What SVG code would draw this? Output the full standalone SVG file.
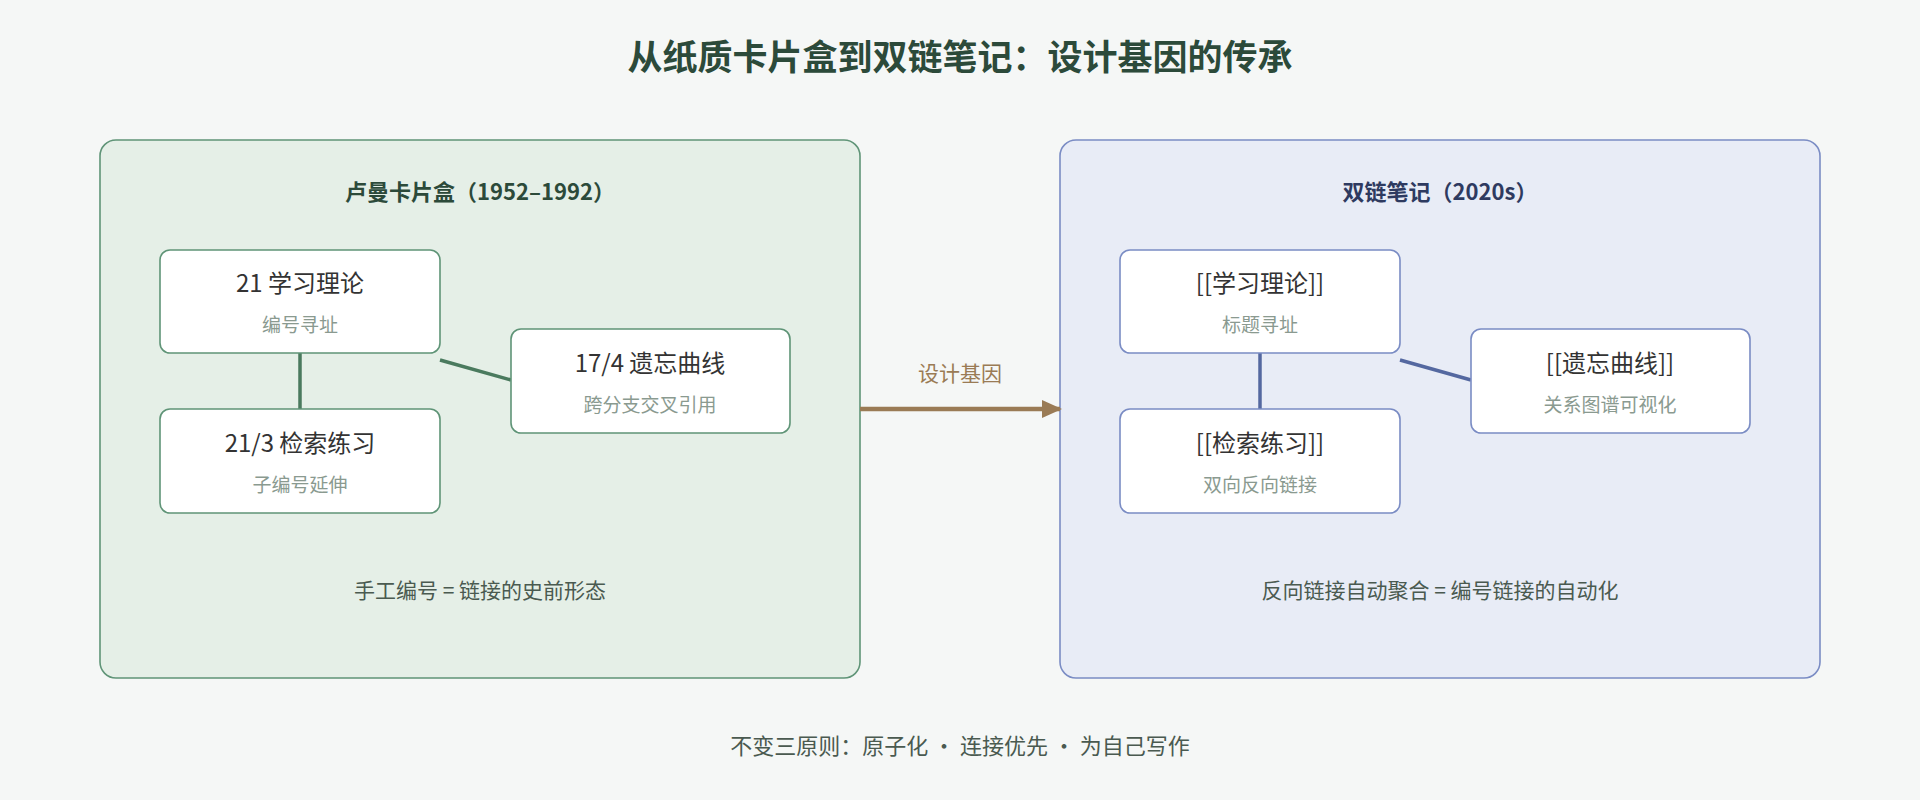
<svg xmlns="http://www.w3.org/2000/svg" width="1920" height="800" viewBox="0 0 1920 800">
<style>
text{font-family:"Noto Sans CJK SC","Noto Sans",sans-serif;text-anchor:middle}
.t{font-size:35px;font-weight:bold;fill:#2c4a3a}
.pt{font-size:22px;font-weight:bold}
.card{fill:#fff;stroke-width:1.6}
.m{font-size:24px;fill:#333}
.s{font-size:19px;fill:#8a9a90}
.f{font-size:21px;fill:#4a5a50}
</style>
<defs><marker id="ah" markerWidth="20" markerHeight="18" refX="18" refY="9" orient="auto" markerUnits="userSpaceOnUse" viewBox="0 0 20 18"><path d="M0,0L20,9L0,18z" fill="#9a7b55"/></marker></defs>
<rect width="1920" height="800" fill="#f5f7f6"/>
<text class="t" x="960" y="70">从纸质卡片盒到双链笔记：设计基因的传承</text>
<g id="left-panel">
<rect x="100" y="140" width="760" height="538" rx="16" fill="#e5efe7" stroke="#5f9477" stroke-width="1.6"/>
<text class="pt" x="480" y="200" fill="#2c4a3a">卢曼卡片盒（1952–1992）</text>
<text class="f" x="480" y="598">手工编号 = 链接的史前形态</text>
</g>
<g id="right-panel">
<rect x="1060" y="140" width="760" height="538" rx="16" fill="#e8ecf6" stroke="#7a8cc4" stroke-width="1.6"/>
<text class="pt" x="1440" y="200" fill="#2e3a60">双链笔记（2020s）</text>
<text class="f" x="1440" y="598" fill="#4a5270">反向链接自动聚合 = 编号链接的自动化</text>
</g>
<g id="connectors" stroke-width="3.5" fill="none">
<path d="M300,353V409M440,360L511,380" stroke="#4a7a5e"/>
<path d="M1260,353V409M1400,360L1471,380" stroke="#5468a0"/>
<path d="M860,409H1060" stroke="#9a7b55" stroke-width="4.5" marker-end="url(#ah)"/>
<text x="960" y="381" style="font-size:21px;fill:#9a7b55;stroke:none">设计基因</text>
</g>
<g id="n1"><rect class="card" x="160" y="250" width="280" height="103" rx="10" stroke="#5f9477"/><text class="m" x="300" y="292">21 学习理论</text><text class="s" x="300" y="332">编号寻址</text></g>
<g id="n2"><rect class="card" x="160" y="409" width="280" height="104" rx="10" stroke="#5f9477"/><text class="m" x="300" y="452">21/3 检索练习</text><text class="s" x="300" y="492">子编号延伸</text></g>
<g id="n3"><rect class="card" x="511" y="329" width="279" height="104" rx="10" stroke="#5f9477"/><text class="m" x="650" y="372">17/4 遗忘曲线</text><text class="s" x="650" y="412">跨分支交叉引用</text></g>
<g id="r1"><rect class="card" x="1120" y="250" width="280" height="103" rx="10" stroke="#7a8cc4"/><text class="m" x="1260" y="292">[[学习理论]]</text><text class="s" x="1260" y="332" fill="#8a90a8">标题寻址</text></g>
<g id="r2"><rect class="card" x="1120" y="409" width="280" height="104" rx="10" stroke="#7a8cc4"/><text class="m" x="1260" y="452">[[检索练习]]</text><text class="s" x="1260" y="492" fill="#8a90a8">双向反向链接</text></g>
<g id="r3"><rect class="card" x="1471" y="329" width="279" height="104" rx="10" stroke="#7a8cc4"/><text class="m" x="1610" y="372">[[遗忘曲线]]</text><text class="s" x="1610" y="412" fill="#8a90a8">关系图谱可视化</text></g>
<text class="f" x="960" y="754" style="font-size:22px">不变三原则：原子化 · 连接优先 · 为自己写作</text>
</svg>
